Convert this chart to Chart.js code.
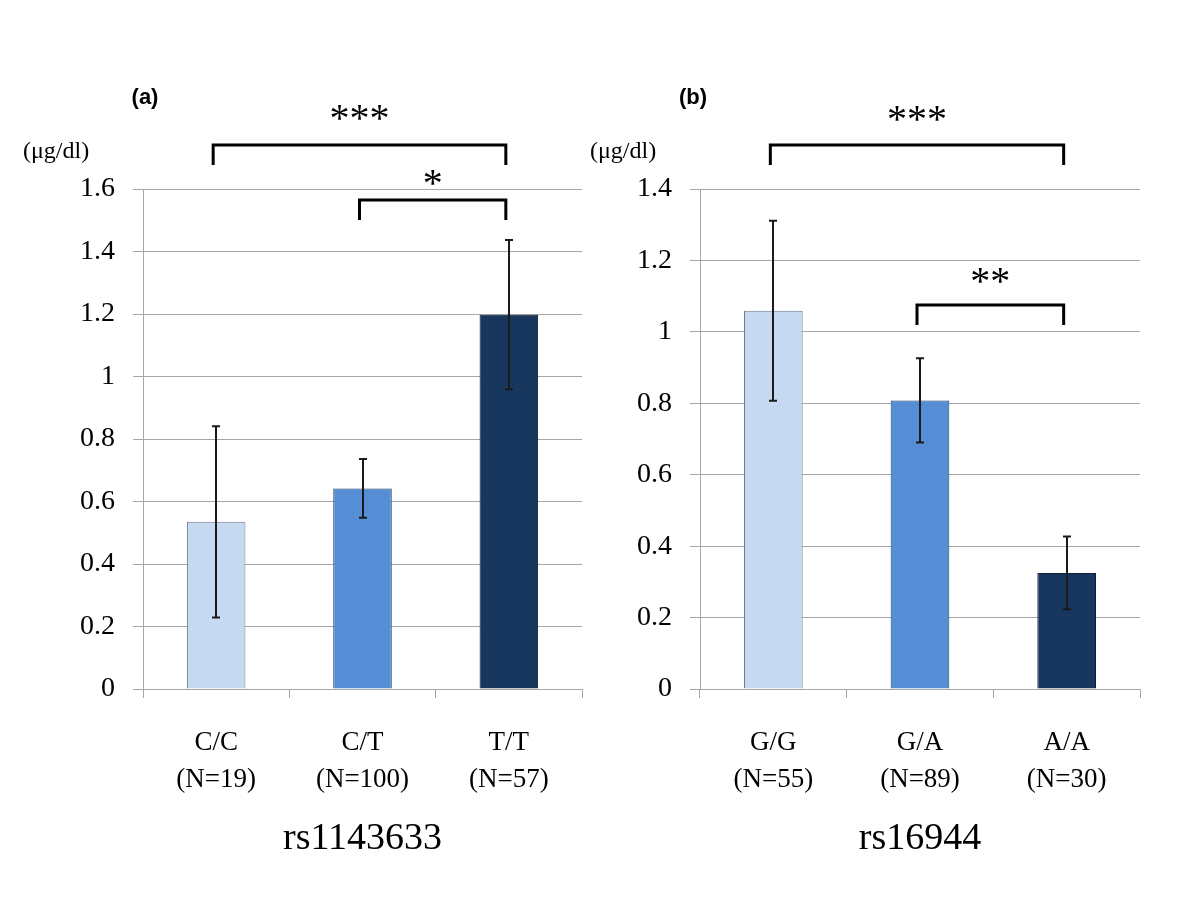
<!DOCTYPE html>
<html><head><meta charset="utf-8">
<script src="https://cdn.jsdelivr.net/npm/chart.js@4.4.1/dist/chart.umd.min.js"></script>
<style>
body{margin:0;background:#fff}
#wrap{position:relative;width:1200px;height:900px;background:#fff}
.p{position:absolute;top:0;height:900px}
</style>
</head><body>
<div id="wrap">
<div class="p" style="left:0;width:600px"><canvas id="c1" width="600" height="900"></canvas></div>
<div class="p" style="left:560px;width:640px"><canvas id="c2" width="640" height="900"></canvas></div>
</div>
<script>
// ---- data ----
const catsA = [['C/C','(N=19)'],['C/T','(N=100)'],['T/T','(N=57)']];
const meansA = [0.535, 0.642, 1.198];
const errA = [0.306, 0.094, 0.239];
const titleA = 'rs1143633';
const maxA = 1.6;

const catsB = [['G/G','(N=55)'],['G/A','(N=89)'],['A/A','(N=30)']];
const meansB = [1.059, 0.808, 0.325];
const errB = [0.252, 0.118, 0.102];
const titleB = 'rs16944';
const maxB = 1.4;

const tickStep = 0.2;
const unitLabel = '(\u03bcg/dl)';

const bracketsA = [
  {from:0, to:2, level:1.741, tip:1.677, label:'***', gap:30},
  {from:1, to:2, level:1.565, tip:1.501, label:'*', gap:20}
];
const bracketsB = [
  {from:0, to:2, level:1.523, tip:1.467, label:'***', gap:30},
  {from:1, to:2, level:1.075, tip:1.019, label:'**', gap:28}
];

// ---- styling ----
const barFill = ['#C6D9F1','#558ED5','#17375E'];
const barBorder = ['#6F7A88','#1F3B5C','#0E1E30'];
const gridColor = '#A6A6A6';
const serif = '"Liberation Serif","Times New Roman",serif';

const annot = {
  id:'annot',
  afterDatasetsDraw(chart, args, o){
    const ctx = chart.ctx, xs = chart.scales.x, ys = chart.scales.y;
    const data = chart.data.datasets[0].data;
    ctx.save();
    // error bars
    ctx.strokeStyle = '#1a1a1a'; ctx.lineWidth = 2; ctx.lineCap='butt';
    o.err.forEach((e,i)=>{
      const cx = Math.round(xs.getPixelForValue(i));
      const t = ys.getPixelForValue(data[i]+e), b = ys.getPixelForValue(data[i]-e);
      ctx.beginPath();
      ctx.moveTo(cx,t); ctx.lineTo(cx,b);
      ctx.moveTo(cx-4,t); ctx.lineTo(cx+4,t);
      ctx.moveTo(cx-4,b); ctx.lineTo(cx+4,b);
      ctx.stroke();
    });
    // brackets
    ctx.strokeStyle = '#000'; ctx.lineWidth = 3; ctx.lineJoin='miter';
    ctx.fillStyle = '#000';
    ctx.font = '40px ' + serif;
    ctx.textAlign = 'center'; ctx.textBaseline = 'middle';
    o.brackets.forEach(br=>{
      const x1 = xs.getPixelForValue(br.from)-3, x2 = xs.getPixelForValue(br.to)-3;
      const yy = ys.getPixelForValue(br.level), yt = ys.getPixelForValue(br.tip);
      ctx.beginPath();
      ctx.moveTo(x1,yt); ctx.lineTo(x1,yy); ctx.lineTo(x2,yy); ctx.lineTo(x2,yt);
      ctx.stroke();
      ctx.fillText(br.label, (x1+x2)/2, yy - br.gap + 6);
    });
    // panel label
    const ca = chart.chartArea;
    ctx.font = 'bold 22px "Liberation Sans",Arial,sans-serif';
    ctx.textAlign = 'center';
    ctx.fillText(o.panel, ca.left + o.panelDx, 98);
    // unit label
    ctx.font = '24px ' + serif;
    ctx.textAlign = 'left';
    ctx.fillText(unitLabel, ca.left + o.unitDx, 152);
    ctx.restore();
  }
};

function make(id, cats, means, err, title, max, brackets, panel, yW, padR, panelDx, unitDx){
  return new Chart(document.getElementById(id), {
    type:'bar',
    data:{labels:cats, datasets:[{data:means, backgroundColor:barFill, borderColor:barBorder, borderWidth:1,
      barPercentage:0.4, categoryPercentage:1}]},
    plugins:[annot],
    options:{
      responsive:false, animation:false,
      layout:{padding:{top:189, right:padR, left:0, bottom:0}},
      plugins:{legend:{display:false}, tooltip:{enabled:false},
        annot:{err:err, brackets:brackets, panel:panel, panelDx:panelDx, unitDx:unitDx}},
      scales:{
        x:{
          offset:true,
          grid:{offset:true, drawOnChartArea:false, drawTicks:true, tickLength:9, color:gridColor, lineWidth:1},
          border:{color:gridColor, width:1},
          ticks:{color:'#000', font:{family:serif, size:27, lineHeight:1.35}, padding:27, maxRotation:0},
          title:{display:true, text:title, color:'#000', font:{family:serif, size:38, lineHeight:1.2}, padding:{top:0,bottom:38}},
          afterFit(s){ s.height = 211; }
        },
        y:{
          min:0, max:max,
          ticks:{stepSize:tickStep, color:'#000', font:{family:serif, size:28}, padding:18,
            callback:(v)=>String(+Number(v).toFixed(1))},
          grid:{color:gridColor, lineWidth:1, tickLength:10},
          border:{color:gridColor, width:1},
          afterFit(s){ s.width = yW; }
        }
      }
    }
  });
}
make('c1', catsA, meansA, errA, titleA, maxA, bracketsA, '(a)', 143, 18, 2, -120);
make('c2', catsB, meansB, errB, titleB, maxB, bracketsB, '(b)', 140, 60, -7, -110);
</script>
</body></html>
